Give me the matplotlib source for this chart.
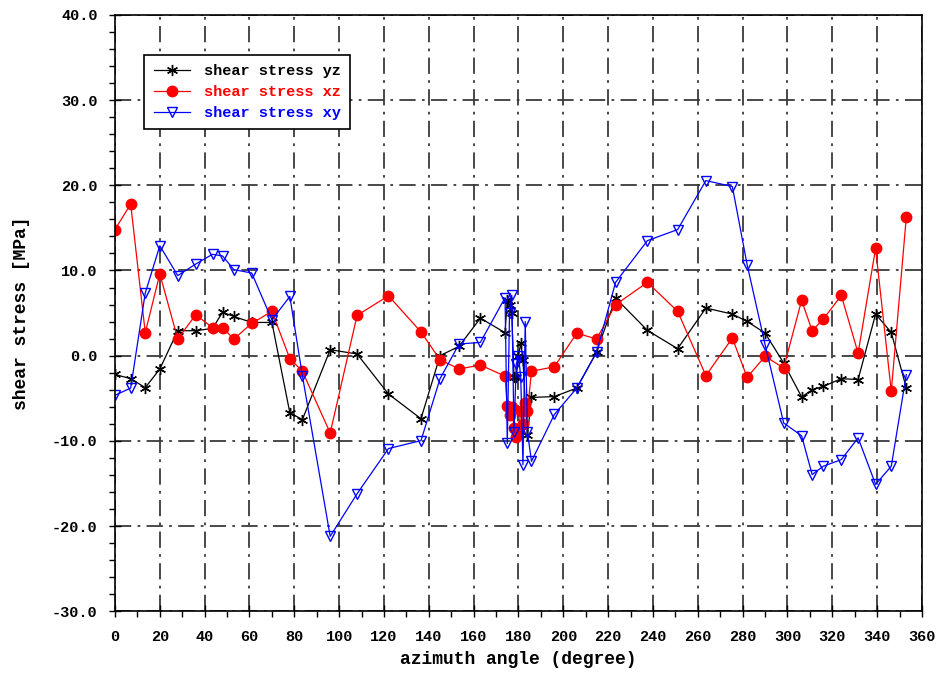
import matplotlib
matplotlib.use("Agg")
import matplotlib.pyplot as plt
from matplotlib.ticker import MultipleLocator, FormatStrFormatter

azimuth = [0, 7, 13.5, 20, 28, 36, 43.5, 48, 53, 61, 70, 78, 83.6, 96, 108, 122, 136.5, 145, 153.5, 163,
           174, 175, 176, 177, 178, 179, 180, 181, 182, 183, 184, 185.8,
           196, 206, 214.8, 223.3, 237.5, 251, 263.6, 275.4, 282, 290, 298.3, 306.3, 311, 316, 324,
           331.5, 339.3, 346.3, 353]

stress_yz = [-2.2, -2.7, -3.75, -1.56, 2.93, 2.93, 3.2, 5.1, 4.6, 3.9, 3.9, -6.7, -7.5, 0.7, 0.2, -4.5, -7.4, 0.0, 1.1, 4.4,
             2.7, 6.5, 6.0, 5.0, -2.5, -2.5, 0.0, 1.5, -0.5, -5.5, -9.3, -4.9,
             -4.8, -3.8, 0.4, 6.76, 2.97, 0.82, 5.59, 4.88, 4.02, 2.65, -0.86, -4.84, -3.99, -3.6, -2.7,
             -2.8, 4.88, 2.73, -3.8]

stress_xz = [14.8, 17.8, 2.7, 9.6, 1.95, 4.8, 3.3, 3.3, 1.95, 3.8, 5.2, -0.35, -1.83, -9.07, 4.73, 7.03, 2.78, -0.47, -1.56, -1.1,
             -2.4, -5.9, -7.0, -6.0, -8.5, -9.5, -9.0, -6.5, -8.0, -5.5, -6.5, -1.83,
             -1.3, 2.65, 1.95, 5.98, 8.6, 5.2, -2.34, 2.07, -2.54, -0.08, -1.44, 6.49, 2.93, 4.3, 7.07,
             0.3, 12.6, -4.18, 16.25]

stress_xy = [-4.65, -3.8, 7.35, 12.9, 9.4, 10.75, 11.9, 11.7, 10.1, 9.7, 4.2, 6.95, -2.35, -21.2, -16.2, -10.9, -9.97, -2.7, 1.37, 1.56,
             6.8, -10.3, 5.0, 7.1, -9.0, -1.0, 0.0, -2.5, -12.8, 4.0, -9.0, -12.4,
             -6.9, -3.8, 0.39, 8.6, 13.5, 14.8, 20.55, 19.85, 10.67, 1.3, -7.9, -9.4, -13.95, -12.97, -12.2,
             -9.65, -15.1, -12.97, -2.23]

labels = ["shear stress yz", "shear stress xz", "shear stress xy"]

FONT = "Liberation Mono"

fig = plt.figure(figsize=(9.41, 6.74), dpi=100)
ax = fig.add_axes([0.1222, 0.093, 0.8576, 0.885])

ax.plot(azimuth, stress_yz, color="black", lw=0.9, marker=(6, 2, 0), ms=8, mew=1.0, label=labels[0])
ax.plot(azimuth, stress_xz, color="red", lw=0.9, marker="o", ms=7.5, mec="red", mfc="red", label=labels[1])
ax.plot(azimuth, stress_xy, color="blue", lw=0.9, marker="v", ms=7, mec="blue", mfc="none", mew=1.0, label=labels[2])

ax.set_xlim(0, 360)
ax.set_ylim(-30, 40)
ax.xaxis.set_major_locator(MultipleLocator(20))
ax.xaxis.set_minor_locator(MultipleLocator(10))
ax.yaxis.set_major_locator(MultipleLocator(10))
ax.yaxis.set_minor_locator(MultipleLocator(2))
ax.yaxis.set_major_formatter(FormatStrFormatter("%.1f"))

ax.grid(True, which="major", color="#3a3a3a", lw=1.3, linestyle=(0, (9, 3.5, 1.5, 3.5)))
ax.tick_params(axis="both", which="major", direction="inout", length=9, width=1.0, colors="black")
ax.tick_params(axis="x", which="major", pad=9)
ax.tick_params(axis="y", which="major", pad=8)
ax.tick_params(axis="x", which="minor", direction="out", length=4, width=1.0)
ax.tick_params(axis="y", which="minor", direction="out", length=4, width=1.0)

for lab in ax.get_xticklabels() + ax.get_yticklabels():
    lab.set_fontfamily(FONT)
    lab.set_fontweight("bold")
    lab.set_fontsize(11)

for s in ax.spines.values():
    s.set_linewidth(1.2)

ax.set_xlabel("azimuth angle (degree)", fontfamily=FONT, fontweight="bold", fontsize=13, labelpad=5)
ax.set_ylabel("shear stress [MPa]", fontfamily=FONT, fontweight="bold", fontsize=13, labelpad=16)

leg = ax.legend(loc="upper left", bbox_to_anchor=(0.027, 0.945), frameon=True, fancybox=False,
                edgecolor="black", framealpha=1, borderpad=0.6, handlelength=2.4, handletextpad=0.9,
                labelspacing=0.45,
                prop={"family": FONT, "weight": "bold", "size": 11})
leg.get_frame().set_linewidth(1.2)
for txt, c in zip(leg.get_texts(), ["black", "red", "blue"]):
    txt.set_color(c)

fig.savefig("out.png", dpi=100)
